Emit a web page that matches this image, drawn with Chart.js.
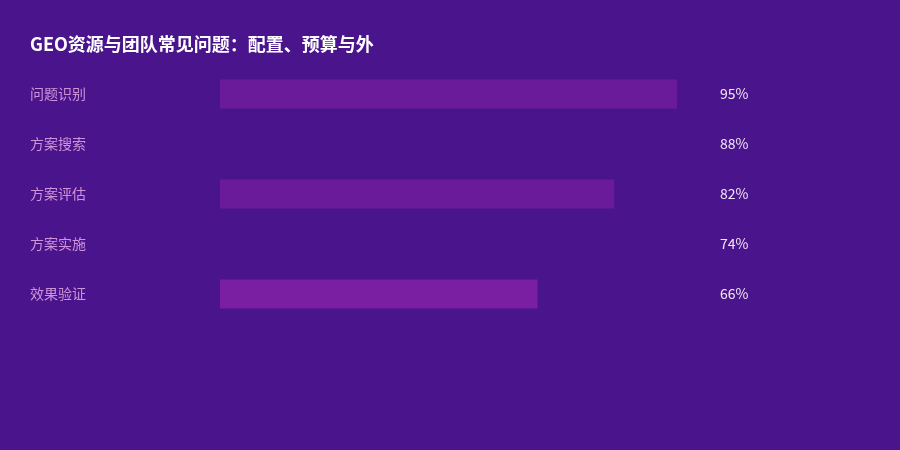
<!DOCTYPE html>
<html>
<head>
<meta charset="utf-8">
<script src="https://cdn.jsdelivr.net/npm/chart.js@4"></script>
<style>
  html, body { margin: 0; padding: 0; background: #4a148c; }
  #wrap { width: 900px; height: 450px; }
</style>
</head>
<body>
<div id="wrap"><canvas id="chart"></canvas></div>
<script>
// data
const categories = ["问题识别", "方案搜索", "方案评估", "方案实施", "效果验证"];
const values = [95, 88, 82, 74, 66];
const barColors = ["#6a1b9a", "#4a148c", "#6a1b9a", "#4a148c", "#7b1fa2"];
const titleText = "GEO资源与团队常见问题：配置、预算与外";

const font = "'Noto Sans CJK SC', 'Noto Sans', sans-serif";

// value labels at a fixed column right of the plot
const valueLabels = {
    id: "valueLabels",
    afterDatasetsDraw(chart) {
        const ctx = chart.ctx;
        const meta = chart.getDatasetMeta(0);
        ctx.save();
        ctx.font = "14px " + font;
        ctx.fillStyle = "#f3e5f5";
        ctx.textAlign = "left";
        ctx.textBaseline = "middle";
        meta.data.forEach(function(bar, i) {
            ctx.fillText(values[i] + "%", chart.chartArea.right + 19, bar.y);
        });
        ctx.restore();
    }
};

const ctx = document.getElementById("chart").getContext("2d");
new Chart(ctx, {
    type: "bar",
    data: {
        labels: categories,
        datasets: [{
            data: values,
            backgroundColor: barColors,
            borderWidth: 0,
            categoryPercentage: 1,
            barPercentage: 0.58
        }]
    },
    options: {
        indexAxis: "y",
        responsive: true,
        maintainAspectRatio: false,
        animation: false,
        layout: { padding: { left: 30, right: 199, top: 0, bottom: 131 } },
        plugins: {
            legend: { display: false },
            tooltip: { enabled: false },
            title: {
                display: true,
                text: titleText,
                align: "start",
                color: "#ffffff",
                font: { family: font, size: 18, weight: "bold" },
                padding: { top: 33, bottom: 14.4 }
            }
        },
        scales: {
            x: {
                display: false,
                min: 0,
                max: 100
            },
            y: {
                grid: { display: false, drawBorder: false },
                border: { display: false },
                ticks: {
                    color: "#ce93d8",
                    crossAlign: "far",
                    padding: 0,
                    font: { family: font, size: 14 }
                },
                afterFit(scale) { scale.width = 190; }
            }
        }
    },
    plugins: [valueLabels]
});
</script>
</body>
</html>
